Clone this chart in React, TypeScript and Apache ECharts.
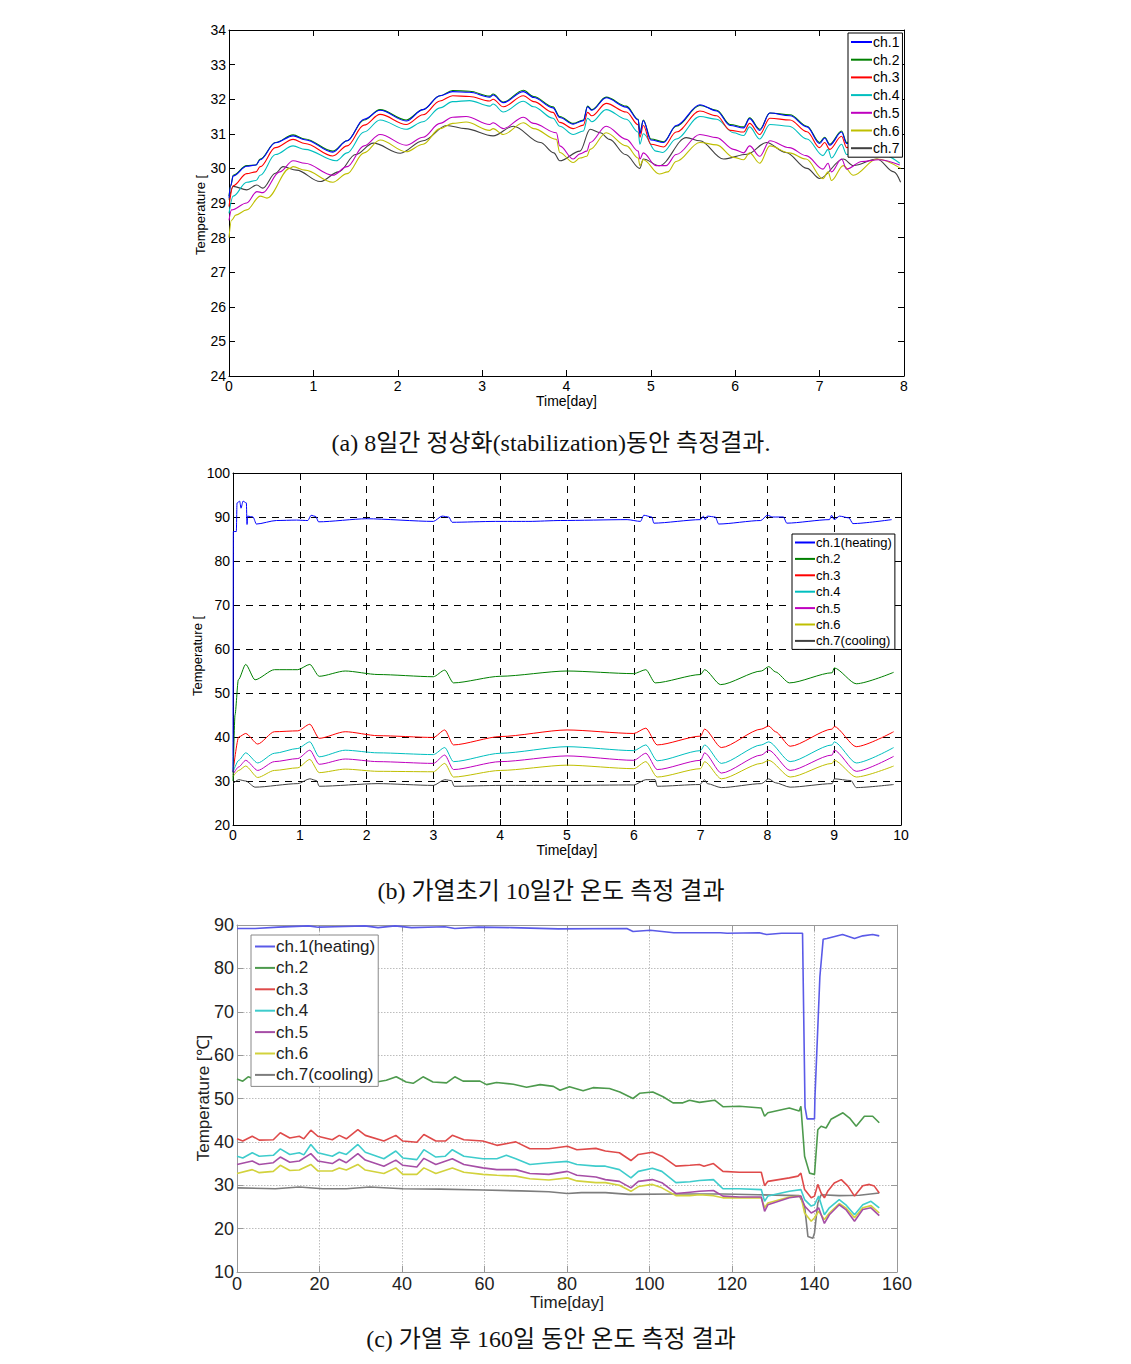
import React, { useEffect, useRef } from "react";
import * as echarts from "echarts";

type P = [number, number][];

// ---------------- (a) 8-day stabilization ----------------
const aRange = { xMin: 0, xMax: 8, xInt: 1, yMin: 24, yMax: 34, yInt: 1 };
const aNames = ["ch.1", "ch.2", "ch.3", "ch.4", "ch.5", "ch.6", "ch.7"];
const a_ch1: P = [[0,29.15],[0.02,29.5],[0.05,29.78],[0.21,30.06],[0.32,30.1],[0.37,30.25],[0.55,30.74],[0.76,30.94],[0.9,30.83],[1.23,30.47],[1.4,30.8],[1.6,31.42],[1.79,31.68],[2.1,31.37],[2.3,31.7],[2.5,32.1],[2.65,32.22],[2.85,32.2],[3.09,32.06],[3.13,32.12],[3.25,31.9],[3.49,32.22],[3.61,32.05],[3.84,31.75],[3.92,31.47],[4.08,31.28],[4.2,31.38],[4.25,31.78],[4.3,31.68],[4.47,32.04],[4.71,31.77],[4.85,31.4],[4.87,31.0],[4.91,31.38],[5.0,30.82],[5.15,30.75],[5.3,31.24],[5.58,31.84],[5.78,31.66],[5.94,31.24],[6.1,31.17],[6.17,31.44],[6.29,31.1],[6.41,31.6],[6.65,31.52],[6.85,31.2],[7.0,30.72],[7.06,30.88],[7.12,30.67],[7.26,31.05],[7.32,30.72],[7.5,30.87],[7.7,30.77],[7.95,30.47]];
const a_ch2: P = [[0,29.2],[0.02,29.5],[0.05,29.8],[0.21,30.08],[0.32,30.1],[0.37,30.27],[0.55,30.75],[0.76,30.97],[0.9,30.85],[1.23,30.5],[1.4,30.8],[1.6,31.4],[1.79,31.7],[2.1,31.4],[2.3,31.7],[2.5,32.1],[2.65,32.25],[2.85,32.23],[3.09,32.09],[3.13,32.15],[3.25,31.92],[3.49,32.26],[3.61,32.08],[3.84,31.78],[3.92,31.5],[4.08,31.3],[4.2,31.4],[4.25,31.8],[4.3,31.7],[4.47,32.06],[4.71,31.8],[4.85,31.42],[4.87,31.03],[4.91,31.4],[5.0,30.85],[5.15,30.77],[5.3,31.22],[5.58,31.82],[5.78,31.68],[5.94,31.27],[6.1,31.2],[6.17,31.46],[6.29,31.13],[6.41,31.6],[6.65,31.55],[6.85,31.22],[7.0,30.75],[7.06,30.9],[7.12,30.7],[7.26,31.08],[7.32,30.75],[7.5,30.9],[7.7,30.8],[7.95,30.5]];
const a_ch3: P = [[0,28.9],[0.05,29.5],[0.21,29.85],[0.32,29.9],[0.37,30.05],[0.55,30.6],[0.76,30.84],[0.9,30.72],[1.23,30.36],[1.4,30.65],[1.6,31.25],[1.79,31.56],[2.1,31.27],[2.3,31.55],[2.5,31.95],[2.65,32.1],[2.85,32.08],[3.09,31.95],[3.13,32.0],[3.25,31.78],[3.49,32.1],[3.61,31.93],[3.84,31.62],[3.92,31.33],[4.08,31.15],[4.2,31.25],[4.25,31.62],[4.3,31.52],[4.47,31.88],[4.71,31.63],[4.85,31.26],[4.87,30.9],[4.91,31.24],[5.0,30.7],[5.15,30.62],[5.3,31.05],[5.58,31.66],[5.78,31.52],[5.94,31.1],[6.1,31.05],[6.17,31.3],[6.29,30.98],[6.41,31.45],[6.65,31.4],[6.85,31.06],[7.0,30.6],[7.06,30.75],[7.12,30.55],[7.26,30.93],[7.32,30.6],[7.5,30.75],[7.7,30.65],[7.95,30.35]];
const a_ch4: P = [[0,28.7],[0.05,29.2],[0.21,29.6],[0.32,29.65],[0.37,29.8],[0.55,30.4],[0.76,30.65],[0.9,30.55],[1.27,30.22],[1.4,30.45],[1.6,31.05],[1.79,31.4],[2.1,31.13],[2.3,31.35],[2.5,31.75],[2.65,31.93],[2.85,31.96],[3.09,31.8],[3.13,31.86],[3.25,31.63],[3.49,31.94],[3.61,31.78],[3.84,31.45],[3.92,31.22],[4.08,30.98],[4.2,31.08],[4.25,31.45],[4.3,31.35],[4.47,31.7],[4.71,31.42],[4.85,31.05],[4.87,30.7],[4.91,31.0],[5.06,30.5],[5.14,30.46],[5.3,30.85],[5.58,31.5],[5.78,31.42],[5.98,31.03],[6.1,30.95],[6.17,31.2],[6.29,30.85],[6.41,31.27],[6.64,31.22],[6.85,30.85],[7.04,30.37],[7.1,30.55],[7.14,30.3],[7.26,30.7],[7.32,30.4],[7.5,30.55],[7.7,30.45],[7.95,30.15]];
const a_ch5: P = [[0,28.5],[0.03,28.8],[0.21,29.0],[0.33,29.33],[0.4,29.3],[0.6,29.9],[0.76,30.22],[0.9,30.15],[1.23,29.8],[1.4,30.05],[1.6,30.65],[1.79,30.98],[2.1,30.67],[2.3,30.9],[2.5,31.3],[2.65,31.48],[2.81,31.5],[3.09,31.27],[3.13,31.32],[3.25,31.15],[3.49,31.48],[3.61,31.3],[3.88,31.03],[3.92,30.65],[4.08,30.27],[4.16,30.42],[4.24,30.5],[4.28,30.75],[4.47,31.22],[4.71,30.84],[4.85,30.5],[4.87,30.27],[4.91,30.45],[5.06,30.08],[5.18,30.08],[5.3,30.4],[5.58,30.98],[5.78,30.89],[5.98,30.55],[6.1,30.45],[6.17,30.65],[6.29,30.35],[6.41,30.8],[6.64,30.6],[6.84,30.37],[7.04,29.98],[7.1,30.15],[7.14,29.9],[7.26,30.27],[7.32,29.98],[7.5,30.2],[7.7,30.25],[7.95,30.1]];
const a_ch6: P = [[0,28.0],[0.03,28.5],[0.08,28.65],[0.21,28.8],[0.37,29.2],[0.45,29.14],[0.72,30.0],[0.76,30.05],[0.9,29.95],[1.23,29.6],[1.4,29.85],[1.6,30.45],[1.79,30.82],[2.1,30.48],[2.3,30.7],[2.5,31.15],[2.65,31.3],[2.81,31.34],[3.09,31.1],[3.13,31.15],[3.25,30.98],[3.49,31.32],[3.61,31.15],[3.88,30.84],[3.92,30.46],[4.08,30.17],[4.16,30.3],[4.24,30.35],[4.28,30.55],[4.47,31.03],[4.71,30.65],[4.85,30.3],[4.87,30.08],[4.91,30.25],[5.1,29.84],[5.2,29.9],[5.3,30.2],[5.58,30.75],[5.78,30.68],[5.98,30.32],[6.1,30.25],[6.17,30.45],[6.29,30.15],[6.41,30.65],[6.64,30.45],[6.84,30.27],[7.04,29.7],[7.1,29.9],[7.14,29.65],[7.28,30.08],[7.4,29.8],[7.68,30.27],[7.96,30.0]];
const a_ch7: P = [[0,29.1],[0.05,29.48],[0.21,29.38],[0.33,29.52],[0.4,29.43],[0.55,29.86],[0.64,30.05],[0.8,29.95],[1.08,29.62],[1.3,29.9],[1.5,30.4],[1.71,30.73],[2.03,30.44],[2.3,30.8],[2.58,31.24],[2.8,31.15],[3.13,30.94],[3.37,31.22],[3.69,30.75],[3.85,30.45],[3.92,30.22],[4.16,30.5],[4.28,31.13],[4.4,31.03],[4.51,30.84],[4.7,30.4],[4.87,30.0],[4.91,30.27],[5.1,30.08],[5.42,30.89],[5.58,30.8],[5.86,30.27],[6.14,30.41],[6.37,30.75],[6.6,30.46],[6.85,30.0],[7.0,29.71],[7.28,30.27],[7.4,30.08],[7.68,30.27],[7.88,29.9],[7.96,29.6]];

// ---------------- (b) first 10 days of heating ----------------
const bRange = { xMin: 0, xMax: 10, xInt: 1, yMin: 20, yMax: 100, yInt: 10 };
const bNames = ["ch.1(heating)", "ch.2", "ch.3", "ch.4", "ch.5", "ch.6", "ch.7(cooling)"];
const b_ch1: P = [[0,32],[0.005,86.7],[0.05,86.7],[0.06,93.2],[0.1,93.6],[0.12,92.0],[0.15,93.6],[0.2,93.2],[0.21,88.3],[0.22,90.2],[0.3,90.0],[0.35,88.4],[0.65,89.2],[0.95,89.3],[1.12,89.2],[1.17,90.4],[1.24,90.1],[1.28,88.9],[2.0,89.6],[3.0,89.0],[3.13,90.2],[3.23,90.0],[3.28,88.8],[3.93,89.0],[4.43,89.0],[4.9,89.2],[5.9,89.4],[6.1,89.0],[6.15,90.4],[6.27,90.0],[6.3,88.6],[7.0,89.4],[7.04,90.2],[7.07,89.4],[7.1,90.2],[7.22,90.0],[7.27,88.4],[7.9,89.2],[8.0,90.4],[8.08,90.0],[8.24,90.0],[8.29,88.6],[8.93,89.4],[8.96,90.4],[9.0,89.4],[9.08,90.2],[9.22,89.8],[9.28,88.5],[9.86,89.4]];
const b_ch2: P = [[0,30],[0.03,45],[0.08,53],[0.19,56.5],[0.33,53.0],[0.62,55.3],[0.97,55.3],[1.15,56.5],[1.29,53.8],[1.68,55.0],[2.17,54.2],[3.0,53.7],[3.17,55.2],[3.3,52.3],[4.0,53.8],[5.0,55.0],[6.0,54.4],[6.18,55.3],[6.32,52.3],[7.0,54.2],[7.06,55.3],[7.3,51.9],[7.91,55.0],[8.02,56.0],[8.12,54.8],[8.33,52.3],[8.97,54.6],[9.0,55.7],[9.33,52.1],[9.89,54.7]];
const b_ch3: P = [[0,32],[0.085,40.0],[0.19,40.8],[0.37,38.4],[0.62,41.2],[0.97,41.4],[1.15,42.9],[1.29,39.7],[1.68,41.2],[2.17,40.3],[3.0,39.9],[3.17,41.6],[3.3,38.2],[4.0,40.1],[5.0,41.6],[6.0,40.8],[6.18,42.0],[6.35,38.2],[7.0,40.2],[7.06,41.8],[7.31,37.6],[7.91,41.8],[8.02,42.5],[8.12,41.2],[8.34,37.9],[8.97,41.8],[9.0,42.4],[9.33,37.8],[9.89,41.2]];
const b_ch4: P = [[0,32],[0.085,34.7],[0.19,36.4],[0.37,34.1],[0.62,36.3],[0.97,37.4],[1.15,38.9],[1.29,35.5],[1.68,37.0],[2.17,36.4],[3.0,36.0],[3.17,37.6],[3.3,34.4],[4.0,36.3],[5.0,37.8],[6.0,36.9],[6.18,38.2],[6.35,34.6],[7.0,36.9],[7.06,38.2],[7.31,34.0],[7.91,38.2],[8.02,38.9],[8.34,34.4],[8.97,38.2],[9.0,38.9],[9.33,34.1],[9.89,37.6]];
const b_ch5: P = [[0,31.5],[0.085,33.2],[0.19,34.7],[0.37,32.4],[0.62,34.4],[0.97,35.1],[1.15,37.0],[1.29,33.8],[1.68,35.0],[2.17,34.4],[3.0,34.0],[3.17,35.9],[3.3,32.6],[4.0,34.4],[5.0,35.7],[6.0,34.7],[6.18,36.3],[6.35,32.6],[7.0,34.7],[7.06,36.4],[7.31,31.8],[7.91,35.9],[8.02,37.0],[8.34,32.4],[8.97,35.9],[9.0,37.0],[9.33,32.2],[9.89,35.6]];
const b_ch6: P = [[0,31],[0.085,32.4],[0.19,33.4],[0.37,30.8],[0.62,32.4],[0.97,33.0],[1.15,34.9],[1.29,31.9],[1.68,32.7],[2.17,32.2],[3.0,32.1],[3.17,34.0],[3.3,30.9],[4.0,32.4],[5.0,33.6],[6.0,32.8],[6.18,34.4],[6.35,30.9],[7.0,32.8],[7.06,34.4],[7.31,30.5],[7.91,34.0],[8.02,34.7],[8.34,30.9],[8.97,34.0],[9.0,34.7],[9.33,30.9],[9.89,33.4]];
const b_ch7: P = [[0,29.4],[0.085,30.3],[0.19,30.0],[0.33,28.6],[0.97,29.4],[1.15,30.5],[1.25,30.1],[1.29,28.8],[2.17,29.4],[3.0,29.0],[3.17,30.3],[3.27,30.1],[3.31,28.8],[4.0,29.0],[5.0,29.0],[6.0,29.1],[6.18,30.3],[6.32,30.3],[6.35,28.8],[6.99,29.2],[7.06,30.3],[7.1,29.4],[7.31,28.5],[7.91,29.4],[8.02,30.5],[8.12,29.6],[8.34,28.6],[8.97,29.4],[9.0,30.5],[9.25,30.1],[9.33,28.5],[9.89,29.2]];

// ---------------- (c) 160 days after heating ----------------
const cRange = { xMin: 0, xMax: 160, xInt: 20, yMin: 10, yMax: 90, yInt: 10 };
const cNames = ["ch.1(heating)", "ch.2", "ch.3", "ch.4", "ch.5", "ch.6", "ch.7(cooling)"];
const c_ch1: P = [[0,89.2],[4.4,89.2],[10,89.5],[17.3,89.8],[19.7,89.5],[23.7,89.6],[31,89.8],[34.2,89.4],[38.3,89.8],[42.3,89.4],[50.4,89.6],[52.8,89.2],[58.5,89.5],[66.6,89.4],[77.9,89.1],[94.5,89.2],[96,88.5],[100.2,88.8],[105.9,88.2],[117.2,88.2],[118.8,88.1],[126.6,88.2],[128.4,87.8],[132,88.1],[137.1,88.1],[137.7,48],[138.2,45.3],[140,45.3],[140.1,50],[141.3,78],[142.1,86.7],[143,86.9],[146.8,87.8],[149.7,86.9],[151.7,87.5],[154.1,87.8],[155.7,87.5]];
const c_ch2: P = [[0,54.5],[1.4,54.0],[2.7,55.0],[5,54.2],[8,54.5],[11,55],[14,54],[18,55.2],[22,54.2],[26,54.8],[30,54.5],[33.8,53.8],[36.2,54.2],[38.6,55.0],[41,53.8],[42.7,53.5],[45.1,55.0],[47.5,53.8],[50.8,53.6],[52.8,55.0],[54.8,54.0],[58.9,54.0],[60.5,53.2],[62.9,53.7],[67,53.3],[70.2,52.6],[73.5,53.2],[76.7,52.8],[78.3,51.9],[80.6,52.7],[83.9,51.8],[86.3,52.5],[90.3,52.3],[92.8,51.5],[96,50.0],[97.6,51.2],[100.8,51.5],[103.3,50.4],[105.7,49.0],[108.1,49.0],[109.7,49.6],[112.1,49.1],[115.8,49.6],[117.8,48.1],[121.8,48.2],[127.1,47.8],[127.9,45.9],[128.7,46.7],[133.9,47.8],[136.3,47.1],[136.7,48.2],[137.6,36.7],[138.8,32.8],[140,32.5],[140.8,42.8],[141.6,43.6],[142.8,43.2],[144,45.2],[146.9,46.7],[148.5,45.5],[150.1,43.6],[152.1,45.9],[154.1,45.9],[155.7,44.4]];
const c_ch3: P = [[0,40.7],[1.4,40.2],[3.7,41.3],[5.4,40.4],[8.8,40.5],[10.5,42.1],[12.8,40.9],[15.1,41.3],[16.2,40.7],[17.9,42.7],[19.6,41.3],[23.1,40.5],[24.8,41.5],[26.5,40.7],[29.3,42.8],[31.1,41.5],[35.6,40.2],[38.5,41.5],[40.2,40.2],[43.6,39.9],[45.3,41.7],[48.2,40.2],[50.5,40.2],[52.2,41.5],[55.0,40.5],[59.6,40.2],[63.0,39.2],[67.6,40.0],[71.0,38.4],[75.6,38.4],[80.1,39.0],[82.4,38.2],[87.0,38.5],[89.3,37.9],[92.7,37.5],[95.5,35.7],[97.3,37.1],[100.7,37.6],[103.0,36.7],[106.4,34.4],[109.8,34.6],[112.1,34.8],[113.2,34.4],[115.5,35.0],[117.8,33.2],[121.8,33.0],[127.1,33.0],[127.9,29.9],[128.7,30.9],[133.9,31.7],[136.0,32.1],[136.7,32.8],[137.6,29.0],[139.2,27.1],[140.0,27.5],[140.8,30.2],[141.6,28.2],[142.4,27.1],[143.2,28.6],[144.8,30.5],[146.5,31.3],[148.1,29.8],[149.7,27.5],[151.7,29.9],[153.3,30.2],[154.5,29.8],[155.7,28.2]];
const c_ch4: P = [[0,36.7],[1.4,36.3],[3.7,37.5],[5.4,36.7],[8.8,36.9],[10.5,38.4],[12.8,37.1],[15.1,37.5],[16.2,37.0],[17.9,39.4],[19.6,37.5],[23.1,36.7],[24.8,37.6],[26.5,37.1],[29.3,39.4],[31.1,37.6],[35.6,36.1],[38.5,37.9],[40.2,36.3],[43.6,35.9],[45.3,38.2],[48.2,36.5],[50.5,36.7],[52.2,38.2],[55.0,36.7],[59.6,36.1],[63.0,36.1],[65.3,36.9],[67.6,36.1],[71.0,34.8],[75.6,35.2],[80.1,35.5],[82.4,34.8],[87.0,34.4],[89.3,34.4],[92.7,33.6],[95.5,31.7],[97.3,33.2],[100.7,33.9],[103.0,33.2],[106.4,30.6],[109.8,30.8],[112.1,31.1],[115.5,31.3],[117.8,29.2],[121.8,29.2],[127.1,29.0],[127.9,26.3],[128.7,27.5],[133.9,28.6],[136.7,29.0],[137.6,26.7],[139.2,25.2],[140.0,25.5],[141.0,27.5],[142.4,23.2],[143.6,24.8],[146.0,26.7],[147.6,25.5],[149.7,23.2],[151.7,25.5],[153.7,26.3],[155.7,24.8]];
const c_ch5: P = [[0,34.8],[3.7,35.6],[5.4,34.8],[8.8,35.2],[10.5,36.5],[12.8,35.3],[15.1,35.6],[17.9,37.3],[19.6,35.6],[23.1,35.0],[24.8,36.0],[26.5,35.2],[29.3,37.3],[31.1,35.8],[35.6,34.4],[38.5,35.8],[40.2,34.6],[43.6,34.2],[45.3,36.2],[48.2,34.8],[52.2,36.1],[55.0,34.8],[59.6,34.0],[63.0,33.6],[67.6,33.6],[71.0,32.7],[75.6,32.5],[80.1,33.2],[82.4,32.3],[87.0,31.9],[89.3,31.3],[92.7,30.9],[95.5,29.4],[97.3,30.9],[100.7,31.3],[103.0,30.6],[106.4,28.1],[109.8,28.4],[112.1,28.6],[115.5,28.8],[117.8,27.5],[121.8,27.3],[127.1,27.3],[127.9,24.0],[128.7,25.5],[133.9,27.1],[136.7,27.5],[137.6,25.2],[139.2,23.6],[140.0,24.0],[141.0,24.8],[142.4,21.2],[143.6,23.2],[146.0,25.5],[147.6,24.4],[149.7,21.7],[151.7,24.4],[153.7,24.8],[155.7,23.0]];
const c_ch6: P = [[0,32.7],[3.7,33.6],[5.4,32.9],[8.8,33.2],[10.5,34.6],[12.8,33.4],[15.1,33.5],[17.9,34.8],[19.6,33.3],[23.1,33.3],[24.8,34.0],[26.5,33.5],[29.3,34.8],[31.1,33.5],[35.6,32.7],[38.5,34.0],[40.2,32.5],[43.6,32.5],[45.3,34.0],[48.2,32.7],[52.2,34.0],[55.0,33.0],[59.6,32.5],[63.0,32.3],[67.6,32.1],[71.0,31.5],[75.6,31.2],[80.1,31.7],[82.4,31.0],[87.0,30.6],[89.3,30.6],[92.7,30.0],[95.5,28.6],[97.3,29.7],[100.7,30.2],[103.0,29.4],[106.4,27.6],[109.8,27.6],[112.1,27.8],[115.5,27.6],[117.8,27.1],[121.8,27.1],[127.1,27.1],[127.9,24.8],[128.7,25.9],[133.9,27.3],[136.7,27.5],[137.6,23.6],[139.2,21.7],[140.0,22.5],[141.0,24.0],[142.4,22.1],[143.6,23.6],[146.0,25.8],[147.6,24.8],[149.7,22.5],[151.7,24.8],[153.7,25.3],[155.7,23.6]];
const c_ch7: P = [[0,29.4],[9.3,29.2],[15.1,29.6],[20.8,29.2],[26.5,29.2],[32.2,29.6],[40.2,29.2],[49.3,29.1],[59.6,28.9],[68.8,28.7],[75.6,28.5],[80.1,28.1],[83.5,28.3],[89.3,28.3],[95.0,27.9],[106.4,28.0],[117.8,28.0],[126.4,27.8],[136.3,27.6],[137.6,25.2],[138.4,18.2],[139.6,17.8],[140.0,19.0],[140.8,25.9],[141.6,27.8],[146.0,27.6],[150.9,27.7],[155.7,28.2]];

const captions = [
  "(a) 8일간 정상화(stabilization)동안 측정결과.",
  "(b) 가열초기 10일간 온도 측정 결과",
  "(c) 가열 후 160일 동안 온도 측정 결과",
];
const yTitles = ["Temperature [", "Temperature [", "Temperature [℃]"];
const xTitle = "Time[day]";

const matlabColors = ["#0000ff", "#008000", "#ff0000", "#00bfbf", "#bf00bf", "#bfbf00", "#404040"];
const softColors = ["#5a5ae8", "#4d9a4d", "#df4a4a", "#3ecccc", "#a64ea6", "#d2d23c", "#7d7d7d"];

const SANS = '"Liberation Sans", Arial, sans-serif';
const SERIF = '"Liberation Serif", "Noto Sans CJK KR", serif';

export default function App() {
  const ref = useRef<HTMLDivElement>(null);
  useEffect(() => {
    if (!ref.current) return;
    const chart = echarts.init(ref.current, null, { renderer: "svg" });

    const grids = [
      { left: 229, top: 30, width: 675, height: 346 },
      { left: 233, top: 473, width: 668, height: 352 },
      { left: 237, top: 925, width: 660, height: 347 },
    ];
    const ranges = [aRange, bRange, cRange];
    const axisColor = ["#000", "#000", "#999"];
    const labelColor = ["#000", "#000", "#222"];
    const labelSize = [14, 14, 18];
    const splitStyle: any[] = [
      { show: false },
      { show: true, lineStyle: { color: "#000", type: [7, 6], width: 1 } },
      { show: true, lineStyle: { color: "#bdbdbd", type: [1.5, 1.5], width: 1 } },
    ];
    const xNameGap = [18, 17, 21];
    const xNameSize = [14, 14, 17];

    const xAxis: any[] = [];
    const yAxis: any[] = [];
    grids.forEach((_, i) => {
      const r = ranges[i];
      const line = { show: true, onZero: false, lineStyle: { color: axisColor[i], width: 1 } };
      const tick = { show: true, inside: true, length: 6, lineStyle: { color: axisColor[i] } };
      xAxis.push({
        gridIndex: i, type: "value", position: "bottom", min: r.xMin, max: r.xMax, interval: r.xInt,
        axisLine: line, axisTick: tick,
        axisLabel: { color: labelColor[i], fontSize: labelSize[i], fontFamily: SANS, margin: 3 },
        splitLine: splitStyle[i],
        name: xTitle, nameLocation: "middle", nameGap: xNameGap[i],
        nameTextStyle: { color: labelColor[i], fontSize: xNameSize[i], fontFamily: SANS },
      });
      xAxis.push({
        gridIndex: i, type: "value", position: "top", min: r.xMin, max: r.xMax, interval: r.xInt,
        axisLine: line, axisTick: tick, axisLabel: { show: false }, splitLine: { show: false },
      });
      yAxis.push({
        gridIndex: i, type: "value", position: "left", min: r.yMin, max: r.yMax, interval: r.yInt,
        axisLine: line, axisTick: tick,
        axisLabel: { color: labelColor[i], fontSize: labelSize[i], fontFamily: SANS, margin: 3 },
        splitLine: splitStyle[i],
      });
      yAxis.push({
        gridIndex: i, type: "value", position: "right", min: r.yMin, max: r.yMax, interval: r.yInt,
        axisLine: line, axisTick: tick, axisLabel: { show: false }, splitLine: { show: false },
      });
    });

    const sets: { prefix: string; names: string[]; data: P[]; colors: string[]; width: number; smooth: number }[] = [
      { prefix: "a", names: aNames, data: [a_ch1, a_ch2, a_ch3, a_ch4, a_ch5, a_ch6, a_ch7], colors: matlabColors, width: 1.1, smooth: 0.35 },
      { prefix: "b", names: bNames, data: [b_ch1, b_ch2, b_ch3, b_ch4, b_ch5, b_ch6, b_ch7], colors: matlabColors, width: 1, smooth: 0.25 },
      { prefix: "c", names: cNames, data: [c_ch1, c_ch2, c_ch3, c_ch4, c_ch5, c_ch6, c_ch7], colors: softColors, width: 1.6, smooth: 0 },
    ];

    const series: any[] = [];
    sets.forEach((s, gi) => {
      s.names.forEach((n, k) => {
        series.push({
          type: "line",
          name: s.prefix + "|" + n,
          data: s.data[k],
          xAxisIndex: gi * 2,
          yAxisIndex: gi * 2,
          symbol: "none",
          showSymbol: false,
          smooth: s.smooth,
          smoothMonotone: "x",
          clip: true,
          lineStyle: { color: s.colors[k], width: s.width },
          itemStyle: { color: s.colors[k] },
          emphasis: { disabled: true },
          z: 2 + (6 - k) * 0.01,
        });
      });
    });

    const legendBase = (gi: number) => ({
      orient: "vertical",
      data: sets[gi].names.map((n) => sets[gi].prefix + "|" + n),
      formatter: (name: string) => name.split("|")[1],
      selectedMode: false,
      backgroundColor: "#fff",
      borderRadius: 0,
      borderWidth: 1,
      itemStyle: { opacity: 0 },
    });
    const legend: any[] = [
      {
        ...legendBase(0), left: 848, top: 33, padding: [2, 3, 2, 2],
        itemWidth: 21, itemHeight: 14, itemGap: 3.7, borderColor: "#000",
        textStyle: { fontSize: 14, fontFamily: SANS, color: "#000", padding: [0, 0, 0, -4] },
      },
      {
        ...legendBase(1), left: 792, top: 534, padding: [2, 3, 2, 2],
        itemWidth: 20, itemHeight: 14, itemGap: 3.4, borderColor: "#000",
        textStyle: { fontSize: 13, fontFamily: SANS, color: "#000", padding: [0, 0, 0, -4] },
      },
      {
        ...legendBase(2), left: 251, top: 935, padding: [3, 3, 3, 3],
        itemWidth: 20, itemHeight: 18, itemGap: 4.4, borderColor: "#888",
        textStyle: { fontSize: 17, fontFamily: SANS, color: "#222", padding: [0, 0, 0, -4] },
      },
    ];

    const yTitlePos = [
      { x: 200, y: 215, size: 13, color: "#000" },
      { x: 197, y: 656, size: 13, color: "#000" },
      { x: 203, y: 1098, size: 17, color: "#222" },
    ];
    const captionY = [443, 891, 1339];

    const graphic: any[] = [];
    yTitlePos.forEach((p, i) => {
      graphic.push({
        type: "text", x: p.x, y: p.y, rotation: Math.PI / 2, silent: true,
        style: { text: yTitles[i], fill: p.color, fontSize: p.size, fontFamily: SANS, textAlign: "center", textVerticalAlign: "middle" },
      });
    });
    captions.forEach((t, i) => {
      graphic.push({
        type: "text", x: 551, y: captionY[i], silent: true,
        style: { text: t, fill: "#111", fontSize: 24, fontFamily: SERIF, textAlign: "center", textVerticalAlign: "middle" },
      });
    });

    chart.setOption({
      animation: false,
      backgroundColor: "#fff",
      grid: grids.map((g) => ({ ...g, containLabel: false, show: false })),
      xAxis,
      yAxis,
      legend,
      series,
      graphic,
    });
    return () => chart.dispose();
  }, []);

  return (
    <div
      ref={ref}
      style={{ position: "absolute", left: 0, top: 0, width: 1131, height: 1364, background: "#fff" }}
    />
  );
}
